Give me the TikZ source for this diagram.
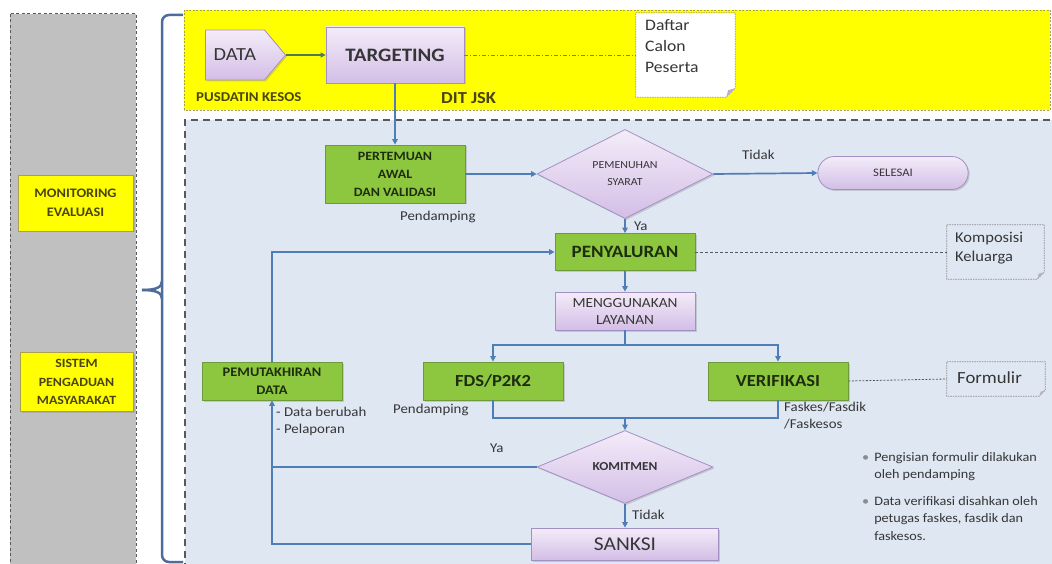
\documentclass[tikz,border=0pt]{standalone}
\usepackage{fontspec}
\setmainfont{Carlito}[FakeStretch=1.1]
\usetikzlibrary{shapes.geometric,shapes.symbols,shapes.misc,arrows.meta,shadows,calc}
\definecolor{lineblue}{HTML}{4F7DB5}
\definecolor{greenfill}{HTML}{8DC63F}
\definecolor{greenedge}{HTML}{6E9A3A}
\definecolor{greentxt}{HTML}{1F2D0F}
\definecolor{purtop}{HTML}{F4ECF9}
\definecolor{purbot}{HTML}{D3BEE6}
\definecolor{puredge}{HTML}{A390C2}
\definecolor{bgblue}{HTML}{DFE7F2}
\definecolor{txt}{HTML}{363636}
\definecolor{panelgrey}{HTML}{C0C0C0}
\definecolor{dkgrey}{HTML}{555A60}
\definecolor{yeledge}{HTML}{A8A050}
\definecolor{bracec}{HTML}{4D6C9C}
\definecolor{yelbox}{HTML}{FFFF00}
\definecolor{olivetxt}{HTML}{4A4510}
\definecolor{arrowgreen}{HTML}{4E7A55}
\definecolor{notegrey}{HTML}{8A8A90}
\definecolor{foldc}{HTML}{B8AECF}
\begin{document}
\begin{tikzpicture}[x=1pt,y=-1pt,
  shad/.style={drop shadow={shadow xshift=1.5pt,shadow yshift=-1.5pt,opacity=0.3}},
  greenbox/.style={draw=greenedge,fill=greenfill,line width=0.8pt,shad,align=center,text=greentxt,font=\bfseries,inner sep=1pt},
  purplebox/.style={draw=puredge,top color=purtop,bottom color=purbot,line width=0.8pt,shad,align=center,text=txt,inner sep=1pt},
  yellowbox/.style={draw=yeledge,fill=yelbox,line width=0.8pt,shad,align=center,text=olivetxt,inner sep=1pt},
  conn/.style={draw=lineblue,line width=1.7pt},
  flow/.style={conn,-{Triangle[length=5.5pt,width=5.5pt]}},
  lbl/.style={text=txt,inner sep=0pt,font=\fontsize{13.5}{17}\selectfont},
  notebox/.style={minimum width=#1,inner sep=0pt},
]
\useasboundingbox (0,0) rectangle (1052,564);
\fill[white] (0,0) rectangle (1052,564);
% left grey panel
\filldraw[fill=panelgrey,draw=dkgrey,dash pattern=on 3pt off 2.5pt,line width=1pt] (10,14) rectangle (136,580);
% yellow panel
\filldraw[fill=yelbox,draw=yeledge,dash pattern=on 2pt off 1.5pt,line width=0.8pt] (184,10) rectangle (1050,110);
% blue panel
\fill[bgblue] (185,120) rectangle (1052,564);
\draw[dkgrey,dash pattern=on 7pt off 5pt,line width=1.2pt] (185,570) -- (185,120) -- (1052,120);
% brace
\draw[bracec,line width=2.5pt,rounded corners=7pt] (183,15) -- (162,15) -- (162,562) -- (183,562);
\draw[bracec,line width=2.5pt] (142,290) .. controls (157,290) and (162,287) .. (162,281);
\draw[bracec,line width=2.5pt] (142,290) .. controls (157,290) and (162,293) .. (162,299);

% left side boxes
\node[yellowbox,minimum width=115pt,minimum height=56pt,font=\bfseries\fontsize{13}{19}\selectfont] (monev) at (75.5,203) {MONITORING\\EVALUASI};
\node[yellowbox,minimum width=113pt,minimum height=59pt,font=\bfseries\fontsize{12.6}{18.5}\selectfont] (spm) at (76.5,382) {SISTEM\\PENGADUAN\\MASYARAKAT};

% top row
\node[signal,signal to=east,signal pointer angle=100,draw=puredge,top color=purtop,bottom color=purbot,line width=0.8pt,shad,minimum width=80pt,minimum height=50pt,text=txt,font=\fontsize{18.5}{20}\selectfont,inner sep=2pt] (data) at (235,55) {DATA};
\node[purplebox,minimum width=138pt,minimum height=56pt,font=\bfseries\fontsize{19}{21}\selectfont] (targeting) at (395,55) {TARGETING};
\node[anchor=west,inner sep=0pt,text=olivetxt,font=\bfseries\fontsize{13.5}{15}\selectfont] (pusdatin) at (196,97) {PUSDATIN KESOS};
\node[anchor=west,inner sep=0pt,text=olivetxt,font=\bfseries\fontsize{16.8}{18}\selectfont] (ditjsk) at (441,98) {DIT JSK};

% notes
\node[notebox=99pt,minimum height=84pt] (daftar) at (685.5,55) {};
\draw[fill=white,draw=yeledge,dash pattern=on 1.5pt off 1pt,line width=0.7pt] (daftar.north west) -- (daftar.north east) -- ($(daftar.south east)+(0,-9)$) -- ($(daftar.south east)+(-9,0)$) -- (daftar.south west) -- cycle;
\fill[foldc] ($(daftar.south east)+(0,-9)$) -- ($(daftar.south east)+(-9,0)$) -- ($(daftar.south east)+(-7,-7)$) -- cycle;
\node[anchor=north west,align=left,inner sep=0pt,text=txt,font=\fontsize{16}{21}\selectfont] (daftartxt) at (645,19) {Daftar\\Calon\\Peserta};

\node[notebox=97pt,minimum height=54pt] (komposisi) at (995.5,252) {};
\draw[draw=notegrey,dash pattern=on 1.5pt off 1pt,line width=0.7pt] (komposisi.north west) -- (komposisi.north east) -- ($(komposisi.south east)+(0,-7)$) -- ($(komposisi.south east)+(-7,0)$) -- (komposisi.south west) -- cycle;
\fill[foldc] ($(komposisi.south east)+(0,-7)$) -- ($(komposisi.south east)+(-7,0)$) -- ($(komposisi.south east)+(-5.5,-5.5)$) -- cycle;
\node[anchor=north west,align=left,inner sep=0pt,text=txt,font=\fontsize{15}{18.5}\selectfont] (kompotxt) at (955,232) {Komposisi\\Keluarga};

\node[notebox=98pt,minimum height=34pt] (formulir) at (996,379) {};
\draw[draw=notegrey,dash pattern=on 1.5pt off 1pt,line width=0.7pt] (formulir.north west) -- (formulir.north east) -- ($(formulir.south east)+(0,-6)$) -- ($(formulir.south east)+(-6,0)$) -- (formulir.south west) -- cycle;
\fill[foldc] ($(formulir.south east)+(0,-6)$) -- ($(formulir.south east)+(-6,0)$) -- ($(formulir.south east)+(-4.5,-4.5)$) -- cycle;
\node[anchor=west,inner sep=0pt,text=txt,font=\fontsize{17}{19}\selectfont] (formtxt) at (957,378) {Formulir};

% flow nodes
\node[greenbox,minimum width=140pt,minimum height=58pt,font=\bfseries\fontsize{12.7}{18}\selectfont] (pertemuan) at (395,174) {PERTEMUAN\\AWAL\\DAN VALIDASI};
\node[diamond,draw=puredge,top color=purtop,bottom color=purbot,line width=0.8pt,shad,minimum width=176pt,minimum height=88pt,inner sep=0pt,align=center,text=txt,font=\fontsize{10.8}{17}\selectfont] (pemenuhan) at (625,174) {PEMENUHAN\\SYARAT};
\node[rounded rectangle,draw=puredge,top color=purtop,bottom color=purbot,line width=0.8pt,shad,minimum width=157pt,minimum height=33pt,text=txt,font=\fontsize{11.5}{13}\selectfont] (selesai) at (893,173) {SELESAI};
\node[greenbox,minimum width=140pt,minimum height=37pt,font=\bfseries\fontsize{17.3}{19}\selectfont] (penyaluran) at (625,252) {PENYALURAN};
\node[purplebox,minimum width=140pt,minimum height=38pt,font=\fontsize{13.9}{17}\selectfont] (menggunakan) at (625,311) {MENGGUNAKAN\\LAYANAN};
\node[greenbox,minimum width=140pt,minimum height=38pt,font=\bfseries\fontsize{16.9}{19}\selectfont] (fds) at (493,381) {FDS/P2K2};
\node[greenbox,minimum width=140pt,minimum height=38pt,font=\bfseries\fontsize{16.9}{19}\selectfont] (verif) at (778,381) {VERIFIKASI};
\node[greenbox,minimum width=140pt,minimum height=38pt,font=\bfseries\fontsize{13.1}{18}\selectfont] (pemut) at (272,381) {PEMUTAKHIRAN\\DATA};
\node[diamond,draw=puredge,top color=purtop,bottom color=purbot,line width=0.8pt,shad,minimum width=176pt,minimum height=55pt,inner sep=0pt,text=txt,font=\bfseries\fontsize{12.2}{14}\selectfont] (komitmen) at (625,467) {KOMITMEN};
\node[purplebox,minimum width=187pt,minimum height=32pt,font=\fontsize{19.5}{21}\selectfont] (sanksi) at (625,544) {SANKSI};

% labels
\node[lbl,anchor=west] (lpend1) at (400,217) {Pendamping};
\node[lbl,anchor=west] (ltidak1) at (742,155) {Tidak};
\node[lbl,anchor=west] (lya1) at (634,226) {Ya};
\node[lbl,anchor=west] (lpend2) at (393,410) {Pendamping};
\node[lbl,anchor=north west,align=left] (lfaskes) at (784,402) {Faskes/Fasdik\\/Faskesos};
\node[lbl,anchor=north west,align=left] (ldata) at (276,407) {- Data berubah\\- Pelaporan};
\node[lbl,anchor=west] (lya2) at (490,448) {Ya};
\node[lbl,anchor=west] (ltidak2) at (632,515) {Tidak};
\node[lbl,anchor=north west,align=left,font=\fontsize{12.9}{17.5}\selectfont] (bullets) at (862,449) {\begin{tabular}{@{}l@{\hspace{5pt}}l@{}}
{\color{notegrey}•} & Pengisian formulir dilakukan\\
 & oleh pendamping\\[9pt]
{\color{notegrey}•} & Data verifikasi disahkan oleh\\
 & petugas faskes, fasdik dan\\
 & faskesos.
\end{tabular}};

% connectors
\draw[draw=arrowgreen,line width=1.2pt,-{Triangle[length=5pt,width=5pt]}] (data.east) -- (targeting.west);
\draw[flow] (targeting.south) -- (pertemuan.north);
\draw[draw=yeledge!80!black,line width=0.7pt,dash pattern=on 4pt off 2pt on 1pt off 2pt] (targeting.east) -- (daftar.west);
\draw[flow] (pertemuan.east) -- (pemenuhan.west);
\draw[flow] (pemenuhan.east) -- (selesai.west);
\draw[flow] (pemenuhan.south) -- (penyaluran.north);
\draw[draw=dkgrey,line width=0.8pt,dash pattern=on 3pt off 2pt] (penyaluran.east) -- (komposisi.west);
\draw[flow] (penyaluran.south) -- (menggunakan.north);
\coordinate (split) at (625,345);
\draw[conn] (menggunakan.south) -- (split);
\draw[flow] (split) -| (fds.north);
\draw[flow] (split) -| (verif.north);
\draw[draw=dkgrey,line width=0.8pt,dash pattern=on 2pt off 1.5pt] (verif.east) -- (formulir.west);
\coordinate (merge) at (625,418);
\draw[conn] (fds.south) |- (merge);
\draw[conn] (verif.south) |- (merge);
\draw[flow] (merge) -- (komitmen.north);
\draw[flow] (komitmen.south) -- (sanksi.north);
\coordinate (loopA) at (272,467);
\coordinate (loopB) at (272,544);
\draw[conn] (komitmen.west) -- (loopA);
\draw[flow] (sanksi.west) -- (loopB) -- (pemut.south);
\draw[flow] (pemut.north) |- (penyaluran.west);
\end{tikzpicture}
\end{document}
